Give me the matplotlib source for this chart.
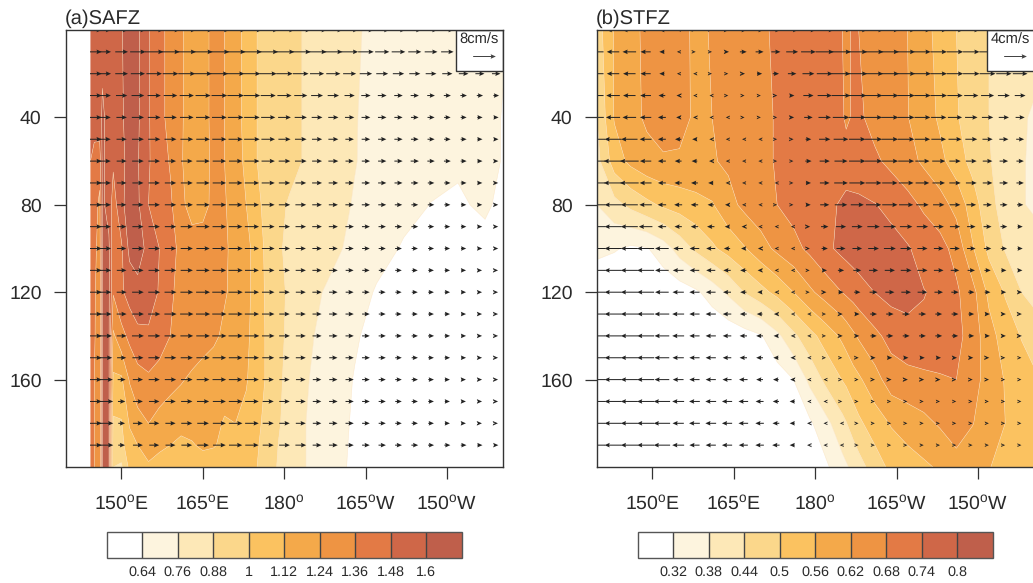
import matplotlib
matplotlib.use("Agg")
import matplotlib.pyplot as plt
from matplotlib.colors import ListedColormap, BoundaryNorm
from matplotlib.patches import Rectangle
import numpy as np

plt.rcParams['font.family'] = ['Liberation Sans', 'DejaVu Sans']
plt.rcParams['mathtext.fontset'] = 'custom'
plt.rcParams['mathtext.rm'] = 'Liberation Sans'
plt.rcParams['text.hinting'] = 'no_hinting'

colors = ['#FFFFFF', '#FDF4DE', '#FDE8B7', '#FBD78B', '#FBC260',
          '#F4A94A', '#EE9443', '#E37A45', '#CF6748', '#BF5F4B']

levels_a = [0.64, 0.76, 0.88, 1.0, 1.12, 1.24, 1.36, 1.48, 1.6]
labels_a = ['0.64', '0.76', '0.88', '1', '1.12', '1.24', '1.36', '1.48', '1.6']
levels_b = [0.32, 0.38, 0.44, 0.5, 0.56, 0.62, 0.68, 0.74, 0.8]
labels_b = ['0.32', '0.38', '0.44', '0.5', '0.56', '0.62', '0.68', '0.74', '0.8']

lon_ticks = [150, 165, 180, 195, 210]
lon_labels = ['150$^{\\mathrm{o}}$E', '165$^{\\mathrm{o}}$E', '180$^{\\mathrm{o}}$',
              '165$^{\\mathrm{o}}$W', '150$^{\\mathrm{o}}$W']
day_ticks = [40, 80, 120, 160]

# ---- shaded field, panel (a)
lon_a = [144.3, 145, 146, 146.5, 147.7, 148.5, 150, 151.5, 153, 155, 157, 159, 161, 163, 165, 167, 169,
         171, 173, 175, 177, 179, 181, 184, 187, 190, 193, 197, 202, 207, 212, 217, 220.3]
day_a = [0, 40, 60, 80, 100, 120, 140, 160, 180, 190, 200]
field_a = [
 [1.55,1.58,1.58,1.56,1.53,1.54,1.59,1.66,1.62,1.49,1.40,1.32,1.25,1.20,1.20,1.27,1.24,1.17,1.08,1.00,.97,.94,.91,.87,.84,.80,.77,.74,.72,.71,.70,.70,.66],
 [1.52,1.52,1.55,1.62,1.56,1.54,1.58,1.66,1.62,1.49,1.40,1.32,1.25,1.20,1.20,1.27,1.24,1.17,1.08,1.00,.97,.94,.91,.87,.84,.80,.765,.73,.71,.70,.70,.71,.63],
 [1.48,1.45,1.42,1.62,1.56,1.50,1.57,1.64,1.61,1.49,1.42,1.35,1.25,1.18,1.19,1.27,1.24,1.18,1.09,1.00,.97,.94,.91,.87,.84,.80,.765,.72,.69,.67,.66,.70,.63],
 [1.42,1.42,1.33,1.62,1.56,1.42,1.57,1.66,1.62,1.48,1.42,1.38,1.27,1.19,1.20,1.27,1.25,1.19,1.12,1.03,.95,.90,.87,.85,.82,.79,.75,.71,.67,.638,.62,.665,.60],
 [1.42,1.40,1.30,1.62,1.62,1.40,1.46,1.63,1.66,1.56,1.48,1.40,1.33,1.30,1.30,1.29,1.26,1.20,1.16,1.06,.96,.89,.86,.83,.80,.77,.73,.68,.63,.60,.59,.59,.60],
 [1.42,1.38,1.28,1.62,1.62,1.37,1.46,1.53,1.56,1.54,1.47,1.38,1.32,1.30,1.29,1.27,1.25,1.21,1.16,1.06,.97,.91,.86,.82,.76,.72,.69,.63,.60,.58,.57,.57,.58],
 [1.42,1.38,1.25,1.62,1.62,1.22,1.32,1.39,1.45,1.46,1.42,1.36,1.33,1.31,1.28,1.26,1.22,1.19,1.15,1.05,.98,.91,.85,.78,.74,.70,.65,.61,.58,.57,.57,.57,.57],
 [1.42,1.36,1.25,1.62,1.62,1.10,1.10,1.25,1.31,1.34,1.31,1.28,1.25,1.22,1.20,1.18,1.17,1.15,1.13,1.05,.98,.90,.84,.77,.72,.67,.635,.60,.57,.57,.57,.57,.57],
 [1.42,1.36,1.25,1.62,1.62,.98,.99,1.13,1.20,1.24,1.20,1.17,1.16,1.16,1.16,1.15,1.11,1.12,1.09,1.03,.95,.89,.83,.76,.71,.66,.63,.60,.57,.57,.57,.57,.57],
 [1.42,1.36,1.25,1.62,1.62,.92,.96,1.08,1.12,1.15,1.14,1.12,1.09,1.11,1.14,1.13,1.09,1.07,1.04,1.01,.95,.875,.83,.76,.71,.66,.625,.60,.57,.57,.57,.57,.57],
 [1.42,1.36,1.25,1.62,1.62,.88,.86,1.03,1.07,1.11,1.08,1.06,1.07,1.06,1.06,1.05,1.05,1.05,1.03,1.00,.92,.87,.82,.76,.71,.66,.62,.60,.57,.57,.57,.57,.57],
]

# ---- shaded field, panel (b)
lon_b = [139.8, 143, 146, 149, 152, 155, 158, 161, 164, 167, 170, 173, 176, 179, 182, 185, 185.7, 187, 188,
         191, 194, 197, 200, 203, 206, 209, 212, 215, 218, 220.3]
day_b = [0, 40, 60, 80, 100, 120, 140, 160, 180, 200]
field_b = [
 [.47,.565,.60,.635,.66,.645,.605,.625,.64,.655,.67,.69,.70,.71,.72,.68,.665,.69,.68,.66,.64,.62,.58,.54,.50,.47,.44,.43,.42,.42],
 [.44,.565,.60,.63,.65,.64,.61,.62,.635,.65,.665,.685,.70,.71,.72,.69,.665,.69,.69,.66,.64,.622,.59,.55,.505,.47,.44,.41,.39,.37],
 [.42,.53,.575,.60,.612,.612,.61,.615,.63,.65,.665,.685,.70,.715,.72,.72,.72,.715,.71,.69,.665,.64,.61,.575,.53,.48,.445,.41,.385,.37],
 [.38,.42,.455,.485,.51,.525,.54,.555,.60,.635,.655,.68,.70,.715,.73,.745,.75,.75,.75,.742,.725,.70,.67,.645,.60,.53,.455,.42,.385,.37],
 [.34,.325,.31,.316,.35,.405,.452,.49,.523,.556,.597,.633,.662,.693,.728,.755,.76,.77,.775,.77,.76,.745,.72,.70,.66,.565,.485,.435,.42,.41],
 [.26,.27,.27,.27,.28,.29,.31,.345,.39,.443,.48,.518,.56,.609,.647,.681,.689,.702,.714,.741,.76,.765,.742,.73,.69,.64,.545,.495,.44,.42],
 [.25,.25,.25,.25,.25,.25,.26,.27,.28,.295,.315,.365,.427,.48,.527,.572,.585,.61,.627,.666,.70,.715,.73,.73,.70,.65,.585,.53,.497,.475],
 [.25,.25,.25,.25,.25,.25,.25,.26,.26,.27,.28,.29,.32,.395,.456,.502,.512,.536,.55,.597,.65,.662,.665,.672,.68,.64,.598,.556,.525,.51],
 [.25,.25,.25,.25,.25,.25,.25,.25,.25,.26,.27,.28,.29,.31,.362,.423,.437,.467,.488,.53,.565,.585,.605,.627,.66,.622,.59,.56,.54,.53],
 [.25,.25,.25,.25,.25,.25,.25,.25,.25,.25,.26,.27,.28,.29,.31,.36,.372,.395,.415,.47,.515,.535,.55,.568,.59,.585,.562,.545,.53,.52],
]

# ---- current vectors
vec_days = [0, 10, 20, 30, 40, 50, 60, 70, 80, 90, 100, 110, 120, 130, 140, 150, 160, 170, 180, 190]
vec_lon_a = [144.05, 147.05, 150.05, 153.05, 156.05, 159.05, 162.05, 165.05, 168.05, 171.05, 174.05, 177.05, 180.05,
             183.05, 186.05, 189.05, 192.05, 195.05, 198.05, 201.05, 204.05, 207.05, 210.05, 213.05, 216.05, 219.05]
u_a = [
 [8.9,4,4.5,5.5,6.5,6.5,6.5,6.8,7,7,7,7,7,7,6.8,6.5,6,5.5,5,4.8,4.6,4.5,4.4,4.3,4.2,4.1],
 [8.9,4,4.5,5.5,6.5,6.5,6.5,6.8,7,7,7,7,7,7,6.8,6.5,6,5.5,5,4.8,4.6,4.5,4.4,4.3,4.2,4.1],
 [8.9,4,4.5,5,5.5,5.5,6,6.2,6.2,6.2,6,6,5.8,5.5,5,5,4.6,4.4,4.2,4,3.9,3.8,3.6,3.4,3.2,3],
 [8.9,3.9,4,4.5,4.7,4.8,5,5.3,5.5,5.8,5.8,5.3,5,4.6,4.2,4,3.6,3.3,3.1,3,2.9,2.7,2.5,2.3,2.2,2],
 [8.9,3.8,3.7,4.3,4.5,4.5,4.8,5,5.2,5.5,5.5,5,4.5,4.3,3.8,3.6,3.3,3.1,3,2.9,2.7,2.5,2.3,2.1,1.9,1.7],
 [8.9,3.8,3.6,4.2,4.3,4.2,4.5,4.8,5,5,5.5,4.8,4.3,4.1,3.6,3.5,3,3,2.9,2.9,2.7,2.5,2.3,2.1,1.8,1.6],
 [8.9,3.8,3.5,4.1,4.1,3.9,4.1,4.7,4.7,4.7,5.3,4.7,4.1,4.1,3.5,3.5,2.9,2.9,2.9,2.9,2.9,2.6,2.4,2.1,1.8,1.5],
 [8.9,3.9,3.4,3.9,4,4,4.2,4.6,4.7,4.8,5,4.6,4,3.8,3.5,3.3,3,2.9,2.9,2.8,2.6,2.3,2.2,2,1.7,1.4],
 [8.9,3.9,3.3,3.9,4,4,4.3,4.6,4.8,4.8,5,4.5,4,3.8,3.4,3.2,3,2.9,2.8,2.6,2.4,2.3,2.1,1.9,1.6,1.4],
 [8.9,3.9,3.3,3.9,4,4,4.3,4.7,4.8,4.8,5,4.5,3.9,3.7,3.4,3.2,3,2.8,2.6,2.5,2.4,2.2,2,1.9,1.6,1.4],
 [8.9,4.1,3.3,4,4,4,4.3,4.7,4.8,5,5,4.5,3.9,3.6,3.3,3.1,2.9,2.7,2.5,2.4,2.2,2.1,1.9,1.8,1.6,1.4],
 [8.9,4.1,3.4,4,4,4.1,4.3,4.7,4.8,5,4.9,4.4,3.8,3.6,3.3,3.1,2.8,2.6,2.4,2.3,2.1,2,1.9,1.7,1.5,1.3],
 [8.9,4.2,3.5,4.1,4.2,4.2,4.5,4.9,5,5,5,4.4,3.7,3.5,3.3,3,2.8,2.6,2.4,2.2,2.1,2,1.9,1.7,1.5,1.3],
 [8.9,4.4,3.5,4.2,4.3,4.3,4.7,5,5,5,5,4.4,3.7,3.5,3.2,3,2.9,2.7,2.4,2.2,2.1,2,1.9,1.7,1.5,1.3],
 [8.9,4.6,3.5,4.2,4.3,4.2,4.5,4.8,5,5,5.2,4.4,3.8,3.5,3.2,3,2.9,2.7,2.5,2.3,2.2,2.1,1.9,1.7,1.5,1.3],
 [8.9,4.8,3.2,3.9,4.1,4.1,4.3,4.7,4.8,4.8,5,4.2,3.6,3.5,3.1,2.9,2.9,2.8,2.5,2.3,2.2,2,1.9,1.7,1.5,1.3],
 [8.9,5.3,2.8,3.6,3.9,4,4.1,4.5,4.8,4.8,4.9,4,3.6,3.4,3,2.9,2.9,2.7,2.5,2.3,2.2,2,1.8,1.6,1.5,1.3],
 [8.9,5.5,2.6,3.5,3.7,3.7,4,4.3,4.6,4.8,4.8,3.9,3.7,3.5,3,3,2.9,2.7,2.5,2.3,2.2,2,1.8,1.6,1.5,1.3],
 [8.9,5.6,2.4,3.5,3.6,3.6,3.9,4.1,4.6,4.8,4.8,3.9,3.7,3.5,3,3,2.9,2.7,2.5,2.3,2.2,2,1.8,1.6,1.4,1.2],
 [8.9,5.6,2.4,3.5,3.5,3.5,3.8,4.1,4.5,4.7,4.7,3.9,3.8,3.8,3.1,3.1,2.9,2.7,2.6,2.4,2.4,2.1,2.1,2,1.8,1.5],
]
vec_lon_b = [139.75, 142.75, 145.75, 148.75, 151.75, 154.75, 157.75, 160.75, 163.75, 166.75, 169.75, 172.75, 175.75,
             178.75, 181.75, 184.75, 187.75, 190.75, 193.75, 196.75, 199.75, 202.75, 205.75, 208.75, 211.75, 214.75, 217.75]
u_b = [
 [-2.4,-2.2,-2.4,-1.8,-.9,-.35,.2,.3,.7,1.2,1.4,1.6,2.1,2.6,3.2,3.5,3.5,3.5,3.2,3.2,2.9,2.9,2.9,2.9,2.9,2.9,2.9],
 [-2.4,-2.2,-2.4,-1.8,-.9,-.35,.2,.3,.7,1.2,1.4,1.6,2.1,2.6,3.2,3.5,3.5,3.5,3.2,3.2,2.9,2.9,2.9,2.9,2.9,2.9,2.9],
 [-2.4,-2.2,-2.2,-1.8,-.9,-.3,-.15,.1,.3,.6,.9,1.1,1.5,2.1,2.8,3.3,3.5,3.4,3.2,3.2,3,2.9,2.9,2.9,2.8,2.7,2.6],
 [-2.4,-2.4,-2.2,-1.9,-1.2,-.6,-.3,-.15,.15,.25,.35,.5,.8,1.8,2.5,3.3,3.2,3.1,3,3,2.9,2.9,2.7,2.5,2.3,2.1,1.9],
 [-2.5,-2.5,-2.4,-2,-1.4,-.7,-.5,-.25,-.1,.1,.25,.4,.7,1.5,2.2,2.9,3,3,3,2.9,2.8,2.7,2.5,2.2,2,1.8,1.6],
 [-3,-3,-2.9,-2.1,-1.4,-1.1,-.8,-.5,-.3,-.2,-.1,.1,.5,1,2,2.6,2.9,3,2.9,2.9,2.7,2.6,2.3,2.1,1.8,1.6,1.4],
 [-3,-3.3,-3.3,-2,-1.4,-1.2,-1,-.6,-.4,-.2,-.15,.1,.3,1.1,1.8,2.3,2.9,3,2.9,2.8,2.5,2.3,2,1.9,1.7,1.5,1.3],
 [-2.9,-3.3,-3.3,-2.1,-1.4,-1.3,-1.2,-.9,-.5,-.3,-.15,-.1,.2,.9,1.7,2.4,2.8,2.8,2.7,2.6,2.4,2.2,2,1.9,1.7,1.5,1.3],
 [-3,-3,-3,-2.2,-1.5,-1.4,-1.3,-1.1,-.7,-.35,-.2,.1,.2,.8,1.6,2.2,2.3,2.7,2.7,2.5,2.2,2,1.9,1.7,1.5,1.3,1.1],
 [-3,-3,-3,-2.4,-1.5,-1.3,-1.3,-1.3,-.8,-.6,-.3,-.2,-.1,.6,1.3,1.8,1.9,2.2,2.2,2.2,2,1.8,1.8,1.5,1.4,1.2,.9],
 [-3,-3,-3,-3,-2.4,-1.7,-1.7,-1.6,-1.1,-.8,-.6,-.3,-.2,.5,1.1,1.6,1.7,1.9,2.1,2,1.8,1.7,1.7,1.5,1.3,1.1,.9],
 [-3,-3,-3,-3,-2.4,-1.9,-1.7,-1.6,-1.3,-1.1,-.7,-.4,-.2,.3,.8,1.1,1.4,1.6,1.8,1.9,1.8,1.7,1.5,1.3,1.1,.9,.8],
 [-3,-3,-3,-3,-2.4,-2,-1.8,-1.7,-1.4,-1.1,-.8,-.5,-.3,.2,.6,.9,1.1,1.4,1.6,1.7,1.7,1.5,1.3,1.1,1,.8,.7],
 [-3,-3,-3,-3,-2.6,-2.1,-1.8,-1.8,-1.5,-1.2,-1,-.7,-.3,-.2,.3,.6,.8,1.2,1.3,1.3,1.3,1.2,1.2,1,.8,.7,.6],
 [-3,-3,-3,-3,-2.6,-2.1,-1.8,-1.8,-1.5,-1.3,-1.2,-.8,-.5,-.2,.2,.6,.7,1.1,1.2,1.2,1.2,1.2,1.1,1,.8,.7,.6],
 [-3,-3,-3,-3,-2.6,-2,-1.8,-1.8,-1.5,-1.3,-1.2,-.9,-.6,-.2,.15,.4,.5,.7,.8,.8,.8,.8,.7,.7,.6,.5,.4],
 [-3,-3,-3,-3,-2.6,-1.9,-1.8,-1.8,-1.6,-1.5,-1.2,-1,-.7,-.3,-.2,.2,.3,.5,.6,.6,.6,.6,.5,.5,.5,.4,.4],
 [-3,-3,-3,-3,-2.9,-2.1,-1.9,-1.9,-1.8,-1.7,-1.4,-1.1,-.9,-.3,-.2,.15,.2,.3,.4,.4,.4,.4,.4,.4,.4,.3,.3],
 [-3,-3,-3,-3,-2.9,-2,-1.9,-1.9,-1.8,-1.7,-1.5,-1.2,-.9,-.5,-.2,-.1,.1,.2,.3,.3,.3,.3,.3,.3,.3,.3,.2],
 [-3,-3,-3,-3,-2.9,-2.1,-1.8,-1.8,-1.8,-1.6,-1.5,-1.3,-.9,-.5,-.3,-.2,.1,.2,.3,.3,.3,.3,.3,.3,.3,.3,.2],
]

W, H = 1033, 583
fig = plt.figure(figsize=(W / 100, H / 100), dpi=100)
INK = '#333333'
TXT = '#2a2a2a'


def box(l, t, r, b):
    return [l / W, 1 - b / H, (r - l) / W, (b - t) / H]


def panel(left, title, lon, day, field, levels, labels, vlon, u, key_u, key_text, clip_lon, vec_scale, cbar_left):
    ax = fig.add_axes(box(left, 30, left + 437, 467))
    cmap = ListedColormap(colors[1:-1])
    cmap.set_under(colors[0])
    cmap.set_over(colors[-1])
    norm = BoundaryNorm(levels, cmap.N)
    cf = ax.contourf(lon, day, np.array(field), levels=levels, cmap=cmap, norm=norm, extend='both', antialiased=True)
    ax.contour(lon, day, np.array(field), levels=levels, colors='#FBE3C0', linewidths=0.35, alpha=0.8)
    ax.set_xlim(139.8, 220.3)
    ax.set_ylim(200, 0)
    ax.set_xticks(lon_ticks)
    ax.set_xticklabels(lon_labels, fontsize=14)
    ax.set_yticks(day_ticks)
    ax.tick_params(axis='x', length=8.6, width=0.9, color=INK, pad=11, labelcolor=TXT)
    ax.tick_params(axis='y', length=8.6, width=0.9, color=INK, pad=9, labelsize=14, labelcolor=TXT)
    for s in ax.spines.values():
        s.set_linewidth(1.0)
        s.set_color(INK)
        s.set_zorder(9)
    fig.text((left - 1) / W, 1 - 24 / H, title, fontsize=14.5, color=TXT, ha='left', va='baseline')

    X, Y = np.meshgrid(vlon, vec_days)
    U = np.array(u, dtype=float)
    # the shortest drawn arrow keeps a visible size (a minimum fractional length)
    floor = key_u * 0.11
    U = np.sign(U) * np.maximum(np.abs(U), floor)
    q = ax.quiver(X, Y, U, np.zeros_like(X), angles='xy', scale_units='x', scale=vec_scale, units='dots',
                  width=1.0, headwidth=4.6, headlength=5.2, headaxislength=4.6, minshaft=0.6, minlength=0.5,
                  pivot='mid', color='#222222', zorder=3)
    if clip_lon is not None:
        q.set_clip_path(Rectangle((clip_lon, 0), 80, 200, transform=ax.transData))

    ax.add_patch(Rectangle((1 - 47 / 437, 1 - 41 / 437), 47 / 437, 41 / 437, transform=ax.transAxes,
                           facecolor='white', edgecolor=INK, linewidth=1.0, zorder=5))
    ax.text(1 - 23.5 / 437, 1 - 9.5 / 437, key_text, transform=ax.transAxes, fontsize=10.6, color=TXT,
            ha='center', va='center', zorder=7)
    ax.quiverkey(q, 1 - 19.5 / 437, 1 - 26 / 437, key_u, '', coordinates='axes', labelpos='S', zorder=7, color='#444444')

    cax = fig.add_axes(box(cbar_left, 532, cbar_left + 355, 558))
    cb = fig.colorbar(cf, cax=cax, orientation='horizontal', extend='both', extendrect=True, extendfrac='auto',
                      spacing='uniform', ticks=levels, drawedges=True)
    cb.ax.set_xticklabels(labels, fontsize=10.4, color=TXT)
    cb.ax.tick_params(axis='x', length=0, pad=5.5)
    cb.outline.set_edgecolor('#555555')
    cb.outline.set_linewidth(1.0)
    cb.dividers.set_color('#444444')
    cb.dividers.set_linewidth(1.0)


panel(66, '(a)SAFZ', lon_a, day_a, field_a, levels_a, labels_a, vec_lon_a, u_a, 8, '8cm/s', 144.3, 1.914, 106.7)
panel(597, '(b)STFZ', lon_b, day_b, field_b, levels_b, labels_b, vec_lon_b, u_b, 4, '4cm/s', None, 0.957, 637.7)

fig.savefig('out.png', dpi=100)
